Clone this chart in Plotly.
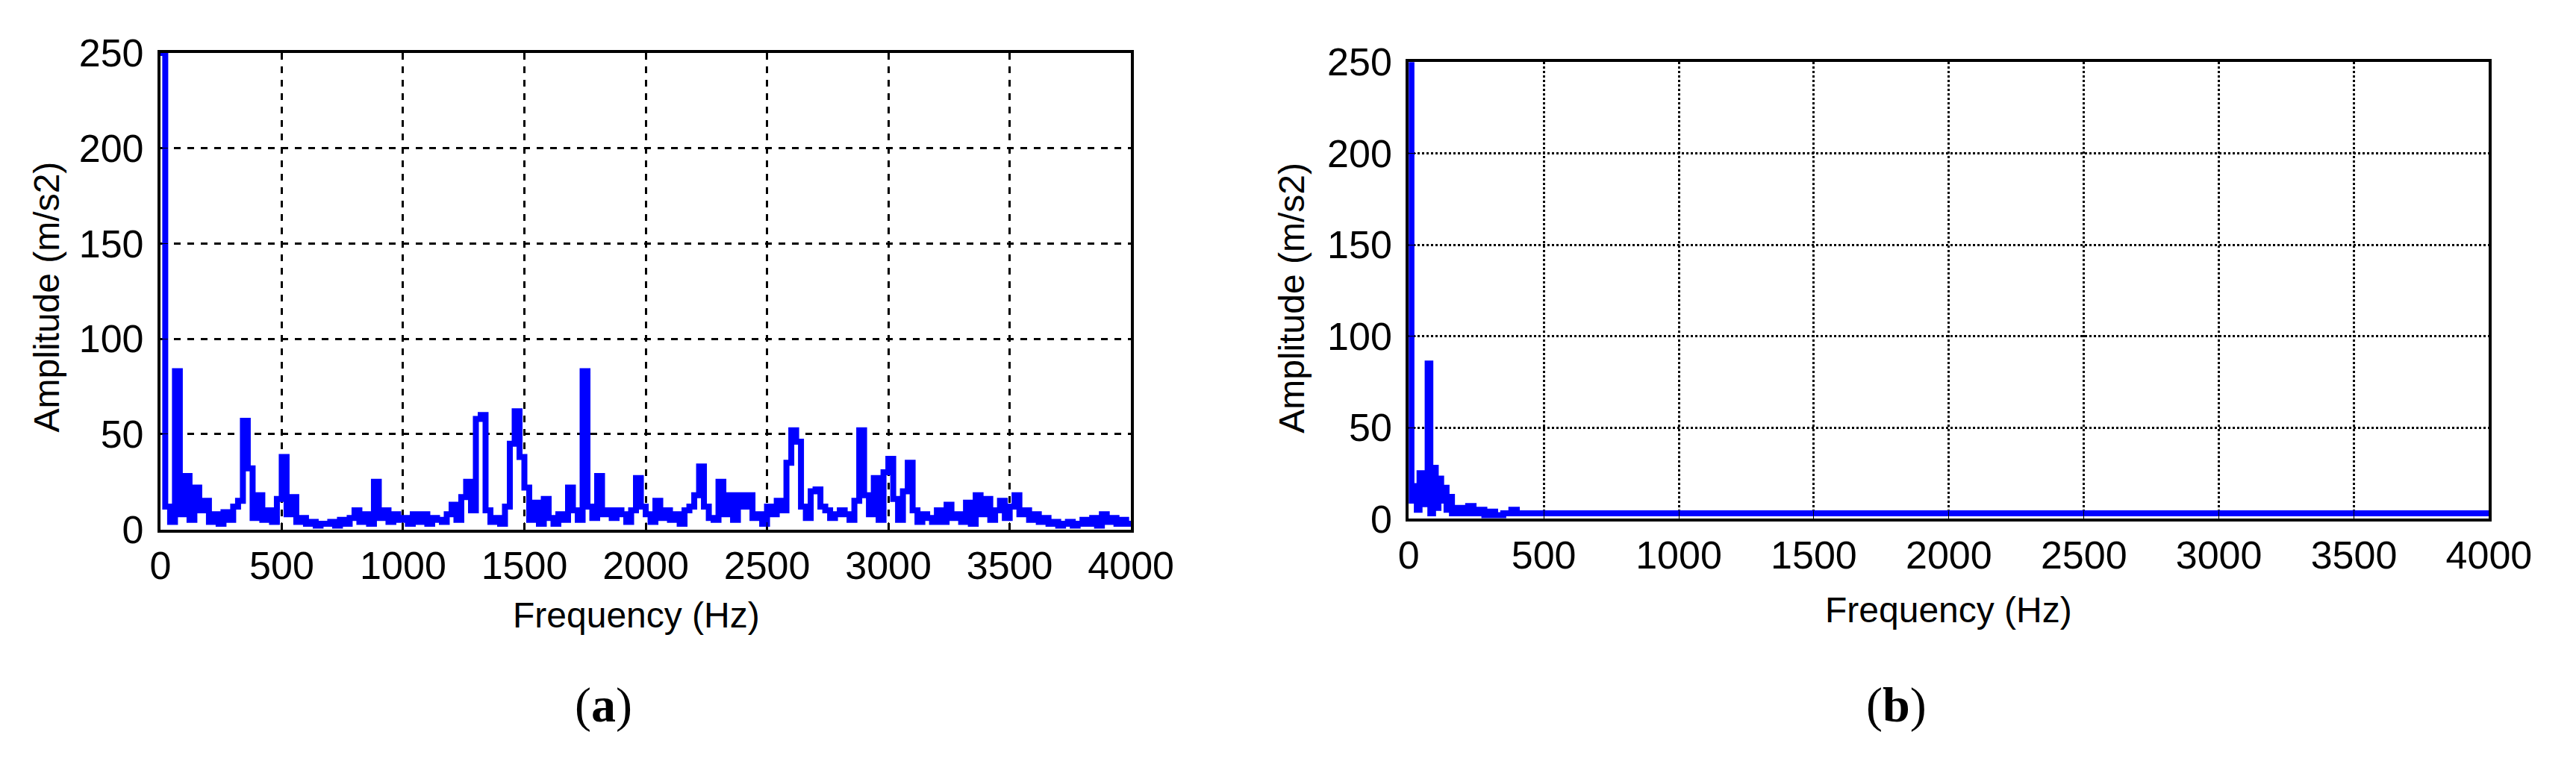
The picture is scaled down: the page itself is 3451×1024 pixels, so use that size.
import plotly.graph_objects as go

# panel (a): spectrum, 20 Hz steps from 0 to 4000 Hz
freq_a = list(range(0, 4001, 20))
amp_a = [
    250, 12, 4, 83, 8, 28, 5, 22, 10, 15,
    4, 8, 3, 9, 5, 12, 15, 57, 32, 6,
    18, 5, 10, 4, 16, 38, 8, 17, 4, 6,
    3, 4, 2, 3, 3, 4, 2, 5, 3, 6,
    10, 4, 8, 3, 25, 6, 10, 4, 8, 5,
    6, 3, 8, 4, 8, 3, 6, 5, 4, 8,
    13, 5, 17, 25, 10, 58, 60, 10, 4, 6,
    3, 12, 45, 62, 38, 22, 5, 14, 3, 16,
    6, 3, 8, 5, 22, 10, 5, 83, 12, 6,
    28, 8, 10, 6, 10, 8, 4, 10, 27, 12,
    8, 4, 15, 6, 10, 5, 8, 3, 10, 12,
    18, 33, 12, 6, 5, 25, 8, 18, 5, 18,
    12, 18, 6, 8, 3, 12, 8, 15, 10, 35,
    52, 46, 12, 6, 20, 21, 12, 10, 6, 8,
    10, 8, 5, 15, 52, 18, 8, 27, 5, 30,
    37, 16, 5, 20, 35, 10, 4, 8, 6, 4,
    10, 4, 13, 6, 8, 4, 14, 3, 18, 8,
    16, 5, 10, 15, 6, 12, 18, 8, 10, 5,
    8, 4, 6, 3, 4, 2, 3, 4, 2, 3,
    5, 3, 6, 2, 8, 4, 6, 3, 5, 3,
    4,
]

# panel (b): low-frequency part, then flat tail
freq_b = [0, 10, 20, 30, 40, 50, 60, 70, 80, 90, 100, 110, 120, 130, 140, 150,
          160, 180, 200, 220, 240, 260, 280, 300, 320, 350, 380, 400,
          600, 800, 1000, 1200, 1400, 1600, 1800, 2000, 2200, 2400, 2600,
          2800, 3000, 3200, 3400, 3600, 3800, 4000]
amp_b = [250, 10, 18, 5, 25, 15, 8, 85, 3, 28, 6, 22, 10, 17, 5, 12,
         3, 6, 3, 7, 3, 5, 2, 4, 2, 3, 5, 3,
         3, 3, 3, 3, 3, 3, 3, 3, 3, 3, 3,
         3, 3, 3, 3, 3, 3, 3]

x_ticks = [0, 500, 1000, 1500, 2000, 2500, 3000, 3500, 4000]
y_ticks = [0, 50, 100, 150, 200, 250]

FONT = "Liberation Sans"
W, H = 3451, 1024

fig = go.Figure()
fig.add_trace(go.Scatter(x=freq_a, y=amp_a, mode="lines", line=dict(color="#0000ff", width=8, shape="hv"),
                         xaxis="x", yaxis="y", showlegend=False))
fig.add_trace(go.Scatter(x=freq_b, y=amp_b, mode="lines", line=dict(color="#0000ff", width=8, shape="hv"),
                         xaxis="x2", yaxis="y2", showlegend=False))

ax = dict(range=[0, 4000], tickvals=x_ticks, showline=True, linecolor="black", linewidth=4, mirror=True,
          ticks="inside", ticklen=10, tickcolor="black", gridcolor="black", gridwidth=2.5,
          tickfont=dict(family=FONT, size=52, color="black"), zeroline=False)
ay = dict(range=[0, 250], tickvals=y_ticks, showline=True, linecolor="black", linewidth=4, mirror=True,
          ticks="inside", ticklen=10, tickcolor="black", gridcolor="black", gridwidth=2.5,
          tickfont=dict(family=FONT, size=52, color="black"), zeroline=False, ticklabelstandoff=8)

fig.update_layout(
    width=W, height=H, margin=dict(l=0, r=0, t=0, b=0),
    paper_bgcolor="white", plot_bgcolor="white",
    xaxis=dict(ax, domain=[197 / W, 1525 / W], anchor="y", griddash="dash"),
    yaxis=dict(ay, domain=[1 - 713 / H, 1 - 36 / H], anchor="x", griddash="dash"),
    xaxis2=dict(ax, domain=[1905 / W, 3383 / W], anchor="y2", griddash="dot"),
    yaxis2=dict(ay, domain=[1 - 698 / H, 1 - 49 / H], anchor="x2", griddash="dot"),
)

ann = [
    dict(text="Frequency (Hz)", x=848 / W, y=1 - 835 / H),
    dict(text="Frequency (Hz)", x=2644 / W, y=1 - 827 / H),
    dict(text="Amplitude (m/s2)", x=41 / W, y=1 - 383 / H, textangle=-90),
    dict(text="Amplitude (m/s2)", x=1745 / W, y=1 - 384 / H, textangle=-90),
]
for a in ann:
    fig.add_annotation(xref="paper", yref="paper", showarrow=False, xanchor="center", yanchor="middle",
                       font=dict(family=FONT, size=48, color="black"), **a)
for lab, xp in [("a", 803), ("b", 2572)]:
    fig.add_annotation(text="(<b>%s</b>)" % lab, x=xp / W, y=1 - 963 / H, xref="paper", yref="paper",
                       showarrow=False, xanchor="center", yanchor="middle",
                       font=dict(family="Liberation Serif", size=66, color="black"))

fig.write_html("out.html")
